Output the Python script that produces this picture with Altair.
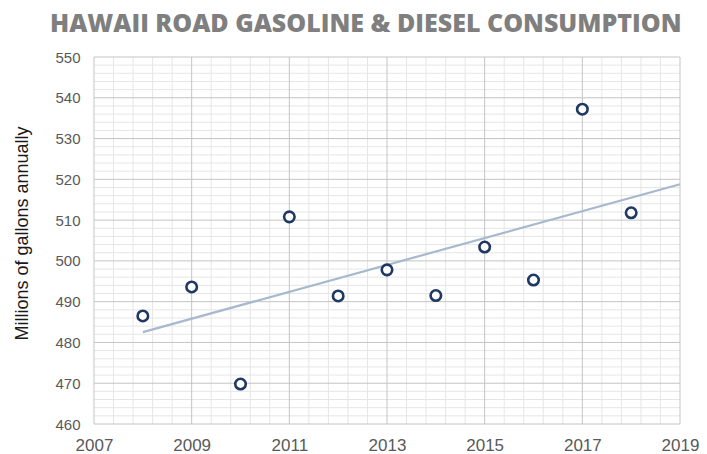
import altair as alt
import pandas as pd

years = [2008, 2009, 2010, 2011, 2012, 2013, 2014, 2015, 2016, 2017, 2018]
consumption = [486.5, 493.6, 469.8, 510.8, 491.4, 497.8, 491.5, 503.4, 495.3, 537.2, 511.8]
x_major = [2007, 2009, 2011, 2013, 2015, 2017, 2019]
y_major = [460, 470, 480, 490, 500, 510, 520, 530, 540, 550]
x_minor = [round(2007 + 0.4 * i, 1) for i in range(31) if i % 5 != 0]
y_minor = [v for v in range(460, 551, 2) if v % 10 != 0]

df = pd.DataFrame({"year": years, "value": consumption})

x_scale = alt.Scale(domain=[2007, 2019], nice=False, zero=False)
y_scale = alt.Scale(domain=[460, 550], nice=False, zero=False)

x_axis = alt.Axis(
    values=x_major, format="d", grid=False,
    labelOverlap=False, labelFlush=False, ticks=False, domain=False,
    labelFontSize=17, labelColor="#595959", labelFont="Liberation Sans", labelPadding=13,
    title=None,
)
y_axis = alt.Axis(
    values=y_major, format="d", grid=False,
    labelOverlap=False, labelFlush=False, ticks=False, domain=False,
    labelFontSize=15, labelColor="#595959", labelFont="Liberation Sans", labelPadding=14,
    title="Millions of gallons annually", titleFontSize=18, titleFont="Liberation Sans",
    titleFontWeight="normal", titleColor="#1a1a1a", titlePadding=23, titleY=176,
)

minor_c = "#e6e6e6"
major_c = "#c4c4c4"

vmin = alt.Chart(pd.DataFrame({"x": x_minor})).mark_rule(color=minor_c, strokeWidth=1).encode(
    x=alt.X("x:Q", scale=x_scale, axis=x_axis))
hmin = alt.Chart(pd.DataFrame({"y": y_minor})).mark_rule(color=minor_c, strokeWidth=1).encode(
    y=alt.Y("y:Q", scale=y_scale, axis=y_axis))
vmaj = alt.Chart(pd.DataFrame({"x": x_major})).mark_rule(color=major_c, strokeWidth=1).encode(
    x=alt.X("x:Q", scale=x_scale, axis=x_axis))
hmaj = alt.Chart(pd.DataFrame({"y": y_major})).mark_rule(color=major_c, strokeWidth=1).encode(
    y=alt.Y("y:Q", scale=y_scale, axis=y_axis))

base = alt.Chart(df)
x_enc = alt.X("year:Q", scale=x_scale, axis=x_axis)
y_enc = alt.Y("value:Q", scale=y_scale, axis=y_axis)

trend = base.transform_regression("year", "value", extent=[2008, 2019]).mark_line(
    color="#a7b9cc", strokeWidth=2.2
).encode(x=x_enc, y=y_enc)

points = base.mark_point(
    shape="circle", filled=False, fill="white", fillOpacity=1, color="#1f3864",
    strokeWidth=2.6, size=110, opacity=1
).encode(x=x_enc, y=y_enc)

chart = alt.layer(vmin, hmin, vmaj, hmaj, trend, points).properties(
    width=586, height=367,
    autosize=alt.AutoSizeParams(type="none"),
    padding={"left": 86, "top": 49, "right": 19, "bottom": 30},
    title=alt.TitleParams(
        "HAWAII ROAD GASOLINE & DIESEL CONSUMPTION", font="Open Sans", fontSize=25,
        fontWeight=800, color="#7f7f7f", anchor="start", frame="group", dx=-44, offset=13,
    ),
).configure_view(stroke=None)

chart.save("out.html", embed_options={"renderer": "svg", "actions": False})
